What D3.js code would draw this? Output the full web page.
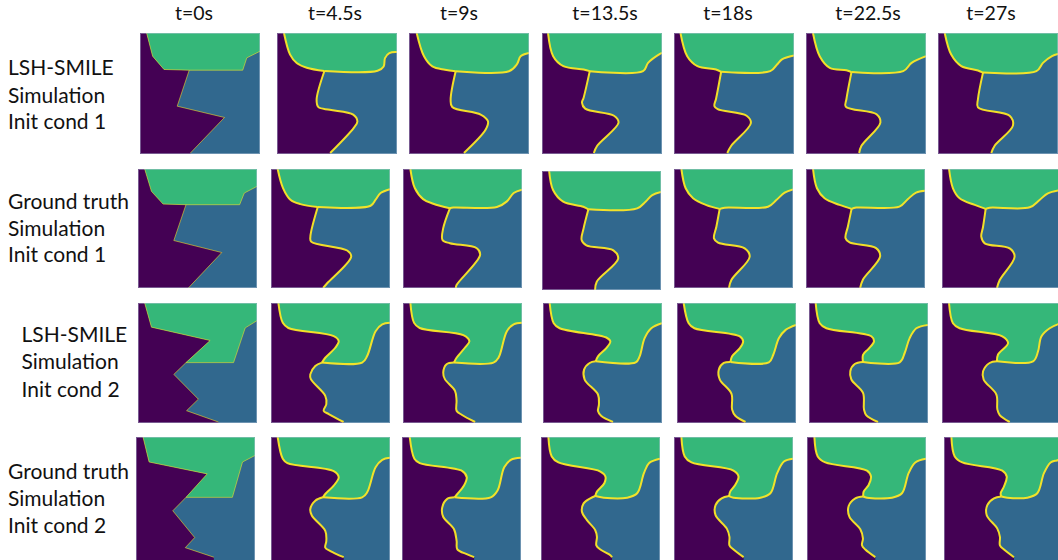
<!DOCTYPE html>
<html><head><meta charset="utf-8">
<script src="https://cdn.jsdelivr.net/npm/d3@7"></script>
<style>body{margin:0;background:#fff}svg{display:block}</style>
</head><body>
<script>
// ---------------- DATA (boundary curves, in cell units 0..100, x right, y down) ----------------
const times = ["t=0s","t=4.5s","t=9s","t=13.5s","t=18s","t=22.5s","t=27s"];
const rowLabels = [
  ["LSH-SMILE","Simulation","Init cond 1"],
  ["Ground truth","Simulation","Init cond 1"],
  ["LSH-SMILE","Simulation","Init cond 2"],
  ["Ground truth","Simulation","Init cond 2"]
];
// A: purple|green (top edge -> junction), B: green|blue (junction -> right edge), C: purple|blue (junction -> bottom edge)
const lshCond1 = [
  {A:[[5.5,0],[10.5,19.3],[20,30.4],[41,31]], B:[[41,31],[85.6,31],[89,20.7],[100,15.2]], C:[[41,31],[31,61],[70.4,70.4],[42,100]]},
  {A:[[5.8,0],[10.9,18],[16.4,25],[24.8,29],[39.5,31.7]], B:[[39.5,31.7],[83.8,31.5],[88.9,27.9],[90,20.9],[93.6,16.7],[100,15.9]], C:[[39.5,31.7],[33,55.7],[34.5,61.8],[44,64],[63.5,68],[67,73.8],[64,79],[44.3,100]]},
  {A:[[6.4,0],[12.5,19.4],[19.4,27.8],[30,30.6],[38.9,31.9]], B:[[38.9,31.9],[83.3,31.9],[90,26],[93,19.4],[100,16.7]], C:[[38.9,31.9],[34.7,55.5],[36,61.7],[59.7,68],[65.8,73.6],[63.9,80.5],[45.8,100]]},
  {A:[[5,0],[9.3,19.3],[17.8,27.6],[34.7,30.4],[39.8,31.8]], B:[[39.8,31.8],[84.2,31.8],[88.4,24.9],[98.3,17.4],[100,16.6]], C:[[39.8,31.8],[34.7,53.9],[33.3,58],[36,63],[60,69],[63.8,74.6],[46,94],[43.2,100]]},
  {A:[[5.4,0],[11,19.3],[19.5,27.6],[35,30.4],[39.3,32.3]], B:[[39.3,32.3],[80.2,31.8],[85.9,26.2],[90,22],[100,18.8]], C:[[39.3,32.3],[35,55],[33.6,60.8],[36.4,63.5],[60.5,69],[64.1,75],[47.7,94],[44.4,100]]},
  {A:[[5.8,0],[11.4,19.3],[19.8,29],[33.7,31],[37.9,32.6]], B:[[37.9,32.6],[81,31.8],[88,24.9],[100,19.3]], C:[[37.9,32.6],[33.7,55],[33.1,61.3],[58.8,67.7],[62,74.6],[46.2,94],[44.3,100]]},
  {A:[[5.6,0],[11,18],[19.4,27.6],[33.3,31.2],[37.5,33]], B:[[37.5,33],[82,31.8],[87.5,24.9],[95,19.3],[100,17.5]], C:[[37.5,33],[33.3,55],[33.3,62],[59.7,69],[62.5,77],[47.2,94],[44.4,100]]}
];
const gtCond1 = [
  {A:[[5.6,0],[11.3,18.8],[21.1,29.5],[40.3,30]], B:[[40.3,30],[85.4,30],[89.3,20.2],[100,14.6]], C:[[40.3,30],[30.1,60.1],[70.4,70.2],[42.3,100]]},
  {A:[[5.6,0],[10.1,16],[16.3,25.8],[24.7,29.5],[39.3,32]], B:[[39.3,32],[83.7,30.9],[87.9,25.8],[92.1,20.2],[100,16.9]], C:[[39.3,32],[33.1,56.7],[33.7,61],[64,68.5],[67.4,73.6],[47.2,96],[43.8,100]]},
  {A:[[6.2,0],[9.9,16],[16.9,25.3],[25.4,29.2],[39.4,33]], B:[[39.4,33],[42.3,32.4],[78.9,32],[87.3,27.2],[93,20.2],[100,17.4]], C:[[39.4,33],[33.8,49.7],[33.2,59.6],[39.4,62.4],[62,66.6],[64.8,72.2],[45,97.5],[44.4,100]]},
  {A:[[6,0],[9.3,16],[17.8,25.8],[34.7,30],[39,32.2]], B:[[39,32.2],[80,31.4],[87,25.8],[92.7,20.2],[100,17.6]], C:[[39,32.2],[35,48],[33.3,58],[37.3,62.5],[60,66.7],[64,73.7],[46,93],[44.6,100]]},
  {A:[[6.2,0],[9.8,16.2],[16,24.6],[27.2,30.3],[38.4,33.5]], B:[[38.4,33.5],[42.6,32.5],[79,31.7],[86,26.1],[93,19.9],[100,17.1]], C:[[38.4,33.5],[35.6,48.5],[33.6,58.3],[37,61.9],[59.4,66.7],[63.6,73.7],[48.2,93.3],[46.2,100]]},
  {A:[[5.9,0],[9.2,16.2],[15.6,24.6],[28.2,30.2],[38.3,33.5]], B:[[38.3,33.5],[42.2,32.4],[78.5,31.6],[85.5,25.4],[92.5,19.8],[100,18.2]], C:[[38.3,33.5],[35.2,48.3],[33.2,58.1],[36.6,61.7],[58.9,66.5],[62.3,73.5],[47.8,93],[45.5,100]]},
  {A:[[5.9,0],[9.2,16.2],[14.8,24.6],[27.5,30.2],[36.7,33.5]], B:[[36.7,33.5],[40,32.5],[73.7,32.2],[82,26],[89,20.4],[100,17.6]], C:[[36.7,33.5],[34.5,48.5],[33,56.9],[35.9,62.5],[56.9,66.7],[61,73.7],[48.5,93.3],[46.2,100]]}
];
const lshCond2 = [
  {A:[[5.6,0],[11.3,20.3],[60.6,31.5],[40.3,50.1]], B:[[40.3,50.1],[80.3,50.1],[90.1,20.9],[100,14.8]], C:[[40.3,50.1],[30.1,60],[50.7,80.8],[40.8,90.5],[67.6,100]]},
  {A:[[6.2,0],[9.9,16.7],[14.6,21],[52.7,27.9],[56.9,32],[54,37.6],[45.6,46],[42.8,50.1]], B:[[42.8,50.1],[76.6,50.1],[80.8,44.6],[87.9,23.7],[93.5,18],[100,16.7]], C:[[42.8,50.1],[37.2,52.9],[33,60],[33.5,64],[45.6,78],[46.5,85],[44.2,90.5],[48.5,93.3],[61,100]]},
  {A:[[6.2,0],[9.3,16.7],[14,21],[50.7,27],[55.8,32],[52,37.6],[45,46],[42.8,50.1]], B:[[42.8,50.1],[76,50.1],[80.3,45.9],[87.3,23.7],[93,18],[100,16.7]], C:[[42.8,50.1],[36.6,51.5],[33.8,58.5],[35.2,64],[43.7,73.8],[45,82],[45,90.5],[49.3,93.9],[60.6,100]]},
  {A:[[5.6,0],[9,17],[14,21.2],[53.2,29],[56.6,32.3],[53.2,37.9],[46.2,44.8],[44.3,49]], B:[[44.3,49],[77.9,49.9],[81.2,44.8],[85.4,29.5],[91,21.2],[100,17]], C:[[44.3,49],[39.2,50.4],[34.5,56],[35,64.3],[46.2,76.9],[47,85.2],[46.2,90.8],[49,95],[58.8,100]]},
  {A:[[5.6,0],[9.8,17],[14.6,21.2],[52.8,28],[55.6,32.3],[52.8,37.9],[46.3,44.8],[44.9,49.5]], B:[[44.9,49.5],[77.2,49.9],[80.9,43.5],[85.7,29.5],[91.3,22.6],[100,18.4]], C:[[44.9,49.5],[39.3,50.4],[35.1,56],[36,64.3],[45.8,76.3],[46.3,89.4],[49.2,95],[57.6,100]]},
  {A:[[5.6,0],[9,17],[14.6,21.2],[52.4,28],[54.6,32.3],[50,38.5],[45.4,43.5],[45.4,49.6]], B:[[45.4,49.6],[76.2,49.9],[80.4,42],[84.6,29.5],[90.2,21.2],[100,18.4]], C:[[45.4,49.6],[38.4,51.3],[34.7,57.4],[35.6,64.3],[45.4,75.5],[46.2,89.4],[48.2,94.4],[58,100]]},
  {A:[[5.9,0],[9.2,17],[14.8,21.2],[50.7,28],[55.5,33.7],[47,43.5],[46.2,49]], B:[[46.2,49],[76.5,49],[80.7,40.7],[83.5,28.1],[90.5,21.2],[100,17]], C:[[46.2,49],[40,50.4],[34.5,57.4],[35,64.3],[45.7,76.9],[46.5,89.4],[48.5,94.2],[56.9,100]]}
];
const gtCond2 = [
  {A:[[5.9,0],[11,21],[59.8,31],[42,50.7]], B:[[42,50.7],[81,50.7],[89.5,21],[100,15.5]], C:[[42,50.7],[30.9,62],[49.3,84.5],[41.4,93],[65.4,101]]},
  {A:[[5.6,0],[9.9,18.3],[13.8,22],[52.7,28.7],[56.9,33.8],[52.7,40.8],[45.6,47.9],[43.7,50.7]], B:[[43.7,50.7],[76.6,50.7],[80.8,46.5],[87.9,25.4],[93.5,19.2],[100,17.5]], C:[[43.7,50.7],[37.2,53.5],[33,60.6],[34.4,66.2],[45.6,78.9],[46.5,87.3],[45.6,93],[49.9,95.8],[61.1,101]]},
  {A:[[6.5,0],[10.4,18.3],[14.9,22],[50.7,28.7],[54.4,33.8],[52.1,40.8],[46.5,47.9],[44.2,50.7]], B:[[44.2,50.7],[74.6,50.7],[80.3,45],[85.9,25.4],[91.5,19.2],[100,17.5]], C:[[44.2,50.7],[38,52],[33.8,59.2],[34.6,67],[43.7,77.5],[45.9,87.3],[46.5,94.4],[54.9,98.6],[60.6,101]]},
  {A:[[6.2,0],[9,16.3],[14.6,21.4],[49.9,29],[54.1,33.2],[53.2,38.9],[47,45.9],[45.6,49.6]], B:[[45.6,49.6],[52.7,51],[72.4,51],[80.8,47.3],[86.5,30.4],[90.7,22],[100,18.3]], C:[[45.6,49.6],[41.4,51.5],[35.8,55.8],[34.4,62.8],[38.6,69.8],[45.6,78.3],[47,83.9],[46.5,91],[49.9,94.6],[58.3,99.4],[59.7,101]]},
  {A:[[6.2,0],[9,16.3],[14.7,21.4],[50,28.2],[54.2,33.2],[51.4,40.3],[47.2,45.9],[46.3,49.6]], B:[[46.3,49.6],[50,51],[72.6,51],[81,47.3],[86.7,30.4],[92.4,20.6],[100,18.3]], C:[[46.3,49.6],[40,51.5],[34.9,57.2],[34.9,65.7],[44.4,77],[46.6,84],[46.6,91],[50,94.6],[58.5,101]]},
  {A:[[6.2,0],[9,16.3],[15.4,21.4],[50.4,28.2],[53.8,33.2],[51.8,40.3],[47.6,45.9],[47.3,50]], B:[[47.3,50],[50.4,51],[71.4,51],[79.8,47.3],[85.4,30.4],[91,21.4],[100,18.3]], C:[[47.3,50],[40.6,51.5],[35,58],[35.6,66.9],[44.8,77.6],[47,85.2],[46.2,91],[49,94.6],[57.4,101]]},
  {A:[[6.2,0],[9,16.3],[15.4,21.4],[49,28.2],[52.7,33.2],[50.4,41.6],[47.6,47.3],[48.2,50]], B:[[48.2,50],[53.2,51],[70,51],[78.4,47.3],[84,30.4],[89.6,21.4],[94.7,19.7],[100,18.6]], C:[[48.2,50],[42,51.5],[36.4,57.2],[35.9,65.7],[44.8,77],[47,84],[47,91],[50.4,94.6],[58.8,101]]}
];
const rowsData = [lshCond1, gtCond1, lshCond2, gtCond2];

// ---------------- LAYOUT ----------------
const W = 1058, H = 560;
const headerX = [194, 335, 459, 605, 728, 868, 991];
const headerY = 19.5;
const layout = [
  {y:33,  size:120, h:121, xs:[140,277,409,542,674,806,938], dy:[0,0,0,0,0,0,0], labelX:8,  base:[74.5,102.5,129]},
  {y:169, size:119, h:119, xs:[138,271,403,542,674,806,942], dy:[0,0,0,2,0,0,0], labelX:8,  base:[208.5,235.5,262]},
  {y:303, size:119, h:120, xs:[138,271,403,543,677,809,942], dy:[0,0,0,0,0,0,0], labelX:21.5, base:[341.7,369,396.5]},
  {y:437, size:119, h:124, xs:[136,271,402,541,674,807,944], dy:[0,0,0,0,0,0,0], labelX:8,  base:[478.5,505.5,532.5]}
];
const colors = {purple:"#440154", blue:"#31688e", green:"#35b779", yellow:"#fde725"};
const FONT = "Lato, 'Open Sans', sans-serif";

const svg = d3.select("body").append("svg").attr("width", W).attr("height", H);
const defs = svg.append("defs");

// headers
svg.append("g").selectAll("text").data(times).join("text")
  .attr("x", (d,i) => headerX[i]).attr("y", headerY)
  .attr("text-anchor", "middle").attr("font-family", FONT).attr("font-size", 19.5)
  .attr("fill", "#111").text(d => d);

// row labels
layout.forEach((L, r) => {
  svg.append("g").selectAll("text").data(rowLabels[r]).join("text")
    .attr("x", L.labelX).attr("y", (d,i) => L.base[i])
    .attr("font-family", FONT).attr("font-size", 21).attr("fill", "#111").text(d => d);
});

layout.forEach((L, r) => {
  rowsData[r].forEach((snap, c) => {
    const x0 = L.xs[c], y0 = L.y + L.dy[c];
    const x = d3.scaleLinear().domain([0,100]).range([0, L.size]);
    const y = d3.scaleLinear().domain([0,100]).range([0, L.size]);
    const yMax = y.invert(L.h);
    const curve = c === 0 ? d3.curveLinear : d3.curveCatmullRom.alpha(0.5);
    const line = d3.line().x(d => x(d[0])).y(d => y(d[1])).curve(curve);
    const id = `clip-${r}-${c}`;
    defs.append("clipPath").attr("id", id).append("rect")
      .attr("width", x(100)).attr("height", L.h);
    const g = svg.append("g").attr("transform", `translate(${x0},${y0})`).attr("clip-path", `url(#${id})`);
    // blue background phase
    g.append("rect").attr("width", x(100)).attr("height", L.h).attr("fill", colors.blue);
    const pA = line(snap.A), pB = line(snap.B), pC = line(snap.C);
    const cEnd = snap.C[snap.C.length-1];
    const bEnd = snap.B[snap.B.length-1];
    // purple phase
    g.append("path").attr("fill", colors.purple)
      .attr("d", `M${x(0)},${y(0)}L` + pA.slice(1) + "L" + pC.slice(1) +
        `L${x(cEnd[0])},${y(yMax)}L${x(0)},${y(yMax)}Z`);
    // green phase
    g.append("path").attr("fill", colors.green)
      .attr("d", pA + "L" + pB.slice(1) + `L${x(bEnd[0])},${y(0)}L${x(100)},${y(0)}Z`);
    // boundaries
    const lw = c === 0 ? 1 : 2;
    const op = c === 0 ? 0.55 : 0.95;
    [pA, pB, pC].forEach(p => {
      g.append("path").attr("d", p).attr("fill", "none")
        .attr("stroke", colors.yellow).attr("stroke-width", lw).attr("stroke-opacity", op)
        .attr("stroke-linejoin", "round");
    });
    // faint image border
    g.append("rect").attr("x", 0.5).attr("y", 0.5).attr("width", x(100)-1).attr("height", L.h-1)
      .attr("fill", "none").attr("stroke", "#b8c8dc").attr("stroke-opacity", 0.45).attr("stroke-width", 1);
  });
});
</script>
</body></html>
